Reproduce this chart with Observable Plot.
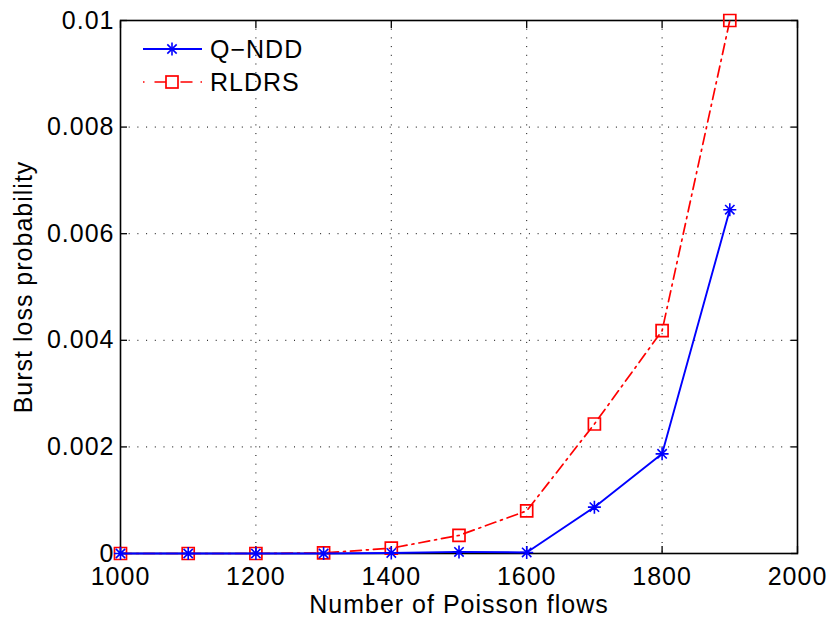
<!DOCTYPE html>
<html><head><meta charset="utf-8">
<script src="https://cdn.jsdelivr.net/npm/d3@7"></script>
<script src="https://cdn.jsdelivr.net/npm/@observablehq/plot@0.6"></script>
<style>
body{margin:0;background:#fff;}
#wrap{position:relative;width:827px;height:617px;font-family:"Liberation Sans",Arial,sans-serif;}
#wrap svg text{font-size:25px !important;letter-spacing:1px;font-family:"Liberation Sans",Arial,sans-serif !important;fill:#000;}
</style></head><body><div id="wrap"></div>
<script>
const flows = [1000,1100,1200,1300,1400,1500,1600,1700,1800,1900];
const qndd  = [0,0,0,0,0.00001,0.00003,0.00002,0.00087,0.00187,0.00645];
const rldrs = [0,0,0,0.00001,0.0001,0.00034,0.0008,0.00243,0.00418,0.01];
const xTicks = [1000,1200,1400,1600,1800,2000];
const yTicks = [0,0.002,0.004,0.006,0.008,0.01];
const yTickLabels = ["0","0.002","0.004","0.006","0.008","0.01"];
const seriesNames = ["Q\u2212NDD","RLDRS"];

const dQ = flows.map((x,i)=>({x, y:qndd[i]}));
const dR = flows.map((x,i)=>({x, y:rldrs[i]}));

// MATLAB-like markers (d3 symbol types)
const starSym = {draw(ctx, size){ const r = Math.sqrt(size/Math.PI); const d = r*0.72;
  ctx.moveTo(-r,0); ctx.lineTo(r,0); ctx.moveTo(0,-r); ctx.lineTo(0,r);
  ctx.moveTo(-d,-d); ctx.lineTo(d,d); ctx.moveTo(-d,d); ctx.lineTo(d,-d); }};
const squareSym = {draw(ctx, size){ const r = Math.sqrt(size/Math.PI);
  ctx.moveTo(-r,-r); ctx.lineTo(r,-r); ctx.lineTo(r,r); ctx.lineTo(-r,r); ctx.closePath(); }};

const T = 7; // tick length
const chart = Plot.plot({
  width: 827, height: 617,
  marginLeft: 120, marginRight: 30, marginTop: 20, marginBottom: 64,
  style: {background:"white", color:"black"},
  x: {domain:[1000,2000]},
  y: {domain:[0,0.01]},
  marks: [
    Plot.gridX(xTicks, {stroke:"black", strokeOpacity:1, strokeDasharray:"1,7.7", strokeWidth:1}),
    Plot.gridY(yTicks, {stroke:"black", strokeOpacity:1, strokeDasharray:"1,7.7", strokeWidth:1}),
    Plot.axisX(xTicks, {tickSize:0, tickPadding:14, tickFormat:d3.format("d"), label:"Number of Poisson flows", labelAnchor:"center", labelArrow:"none", labelOffset:59}),
    Plot.axisX(xTicks, {tickSize:T, dy:-T, tickFormat:()=>"", label:null, stroke:"black", strokeWidth:1.3}),
    Plot.axisX(xTicks, {anchor:"top", tickSize:T, dy:T, tickFormat:()=>"", label:null, stroke:"black", strokeWidth:1.3}),
    Plot.axisY(yTicks, {tickSize:0, tickPadding:6, tickFormat:(d,i)=>yTickLabels[i], label:"Burst loss probability", labelAnchor:"center", labelArrow:"none", labelOffset:106}),
    Plot.axisY(yTicks, {tickSize:T, dx:T, tickFormat:()=>"", label:null, stroke:"black", strokeWidth:1.3}),
    Plot.axisY(yTicks, {anchor:"right", tickSize:T, dx:-T, tickFormat:()=>"", label:null, stroke:"black", strokeWidth:1.3}),
    Plot.frame({stroke:"black", strokeWidth:1.6}),
    Plot.line(dR, {x:"x", y:"y", stroke:"#ff0000", strokeWidth:1.7, strokeDasharray:"11,5,2,5"}),
    Plot.dot(dR, {x:"x", y:"y", symbol:squareSym, r:6, stroke:"#ff0000", fill:"none", strokeWidth:1.7}),
    Plot.line(dQ, {x:"x", y:"y", stroke:"#0000ff", strokeWidth:1.9}),
    Plot.dot(dQ, {x:"x", y:"y", symbol:starSym, r:6.5, stroke:"#0000ff", fill:"none", strokeWidth:1.6})
  ]
});
const wrap = document.getElementById("wrap");
wrap.appendChild(chart);

// legend overlay (no box, as in the reference)
const ns = "http://www.w3.org/2000/svg";
const lg = document.createElementNS(ns,"svg");
lg.setAttribute("width","240"); lg.setAttribute("height","90");
lg.style.position="absolute"; lg.style.left="130px"; lg.style.top="20px";
const items = [
  {name: seriesNames[0], color:"#0000ff", dash:false, sym:"star"},
  {name: seriesNames[1], color:"#ff0000", dash:true, sym:"square"}
];
const x0 = 13, x1 = 72, xm = 42;
items.forEach((it,i)=>{
  const y = 29 + i*33;
  const l = document.createElementNS(ns,"line");
  l.setAttribute("x1",x0); l.setAttribute("x2",x1); l.setAttribute("y1",y); l.setAttribute("y2",y);
  l.setAttribute("stroke",it.color); l.setAttribute("stroke-width", i===0?1.9:1.7);
  if (it.dash) l.setAttribute("stroke-dasharray","1.5,10,12,14,12,8,1.5,20");
  lg.appendChild(l);
  if (it.sym==="square"){
    const r = document.createElementNS(ns,"rect");
    r.setAttribute("x",xm-6); r.setAttribute("y",y-6); r.setAttribute("width",12); r.setAttribute("height",12);
    r.setAttribute("fill","white"); r.setAttribute("stroke",it.color); r.setAttribute("stroke-width",1.7);
    lg.appendChild(r);
  } else {
    const rr = 6.5, d = rr*0.72;
    [[-rr,0,rr,0],[0,-rr,0,rr],[-d,-d,d,d],[-d,d,d,-d]].forEach(s=>{
      const e = document.createElementNS(ns,"line");
      e.setAttribute("x1",xm+s[0]); e.setAttribute("y1",y+s[1]);
      e.setAttribute("x2",xm+s[2]); e.setAttribute("y2",y+s[3]);
      e.setAttribute("stroke",it.color); e.setAttribute("stroke-width",1.6);
      lg.appendChild(e);
    });
  }
  const t = document.createElementNS(ns,"text");
  t.setAttribute("x",80); t.setAttribute("y",y+9);
  t.setAttribute("font-size","25"); t.setAttribute("letter-spacing","1");
  t.setAttribute("font-family",'"Liberation Sans",Arial,sans-serif');
  t.textContent = it.name;
  lg.appendChild(t);
});
wrap.appendChild(lg);
</script></body></html>
